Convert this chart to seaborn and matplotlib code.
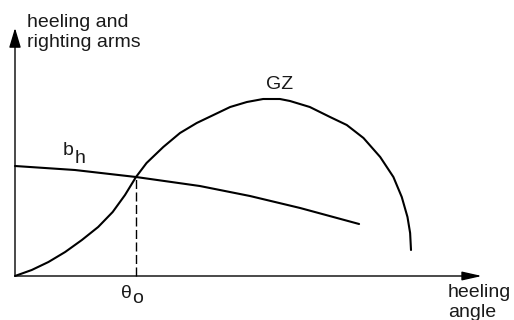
import matplotlib
matplotlib.use("Agg")
import matplotlib.pyplot as plt
import seaborn as sns
import pandas as pd

# ---- data (heel angle in degrees, arm in arbitrary length units) ----
gz_angle = [0.0, 3.8, 7.6, 11.4, 15.2, 18.9, 22.2, 25.0, 27.5, 29.9, 33.7, 37.5,
            41.3, 45.1, 48.9, 52.7, 56.4, 60.2, 62.5, 67.0, 71.6, 75.4, 79.2,
            83.0, 86.0, 87.9, 89.2, 89.8, 90.0]
gz_arm = [0.00, 0.06, 0.14, 0.24, 0.36, 0.49, 0.64, 0.81, 0.99, 1.13, 1.29, 1.43,
          1.53, 1.61, 1.69, 1.74, 1.77, 1.77, 1.75, 1.69, 1.59, 1.51, 1.38,
          1.19, 0.99, 0.79, 0.59, 0.43, 0.26]
bh_angle = [0.0, 13.6, 27.5, 42.0, 53.4, 64.8, 78.2]
bh_arm = [1.10, 1.06, 0.99, 0.90, 0.80, 0.68, 0.52]
theta_o = 27.5
arm_o = 0.99
x_axis_end = 106.1
y_axis_end = 2.48

sns.set_theme(style="white")
plt.rcParams['font.family'] = ['Liberation Sans', 'DejaVu Sans']

fig = plt.figure(figsize=(5.14, 3.2), dpi=100)
ax = fig.add_axes([0, 0, 1, 1])
ax.set_xlim(-15 / 4.4, (514 - 15) / 4.4)
ax.set_ylim((276 - 320) / 100, 276 / 100)
ax.axis('off')

gz = pd.DataFrame({"angle": gz_angle, "arm": gz_arm})
bh = pd.DataFrame({"angle": bh_angle, "arm": bh_arm})
sns.lineplot(data=gz, x="angle", y="arm", sort=False, estimator=None,
             color="black", lw=1.5, ax=ax, solid_joinstyle="round")
sns.lineplot(data=bh, x="angle", y="arm", sort=False, estimator=None,
             color="black", lw=1.5, ax=ax, solid_joinstyle="round")

ax.plot([theta_o, theta_o], [0, arm_o], color="black", lw=1.0,
        linestyle=(0, (6.5, 2.5)))

# axes arrows
ax.annotate("", xy=(x_axis_end, 0), xytext=(0, 0),
            arrowprops=dict(arrowstyle="-|>,head_length=1.2,head_width=0.27",
                            mutation_scale=10, lw=1.0, color="black",
                            shrinkA=0, shrinkB=0))
ax.annotate("", xy=(0, y_axis_end), xytext=(0, 0),
            arrowprops=dict(arrowstyle="-|>,head_length=1.2,head_width=0.36",
                            mutation_scale=10, lw=1.0, color="black",
                            shrinkA=0, shrinkB=0))

fs = 14
tc = "#1a1a1a"
def px(x, y):
    return ((x - 15) / 4.4, (276 - y) / 100)

ax.text(*px(27, 47), "heeling and\nrighting arms", fontsize=fs, color=tc,
        ha="left", va="baseline", linespacing=1.2, multialignment="left")
ax.text(*px(448, 317), "heeling\nangle", fontsize=fs, color=tc,
        ha="left", va="baseline", linespacing=1.2, multialignment="left")
ax.text(*px(280, 89), "GZ", fontsize=fs, color=tc, ha="center", va="baseline")
ax.text(*px(63, 155), "b", fontsize=fs, color=tc, ha="left", va="baseline")
ax.text(*px(75, 163), "h", fontsize=fs, color=tc, ha="left", va="baseline")
ax.text(*px(121, 298), "θ", fontsize=fs, color=tc, ha="left", va="baseline")
ax.text(*px(132, 303), "o", fontsize=fs, color=tc, ha="left", va="baseline")

fig.savefig("out.png", dpi=100, facecolor="white")
